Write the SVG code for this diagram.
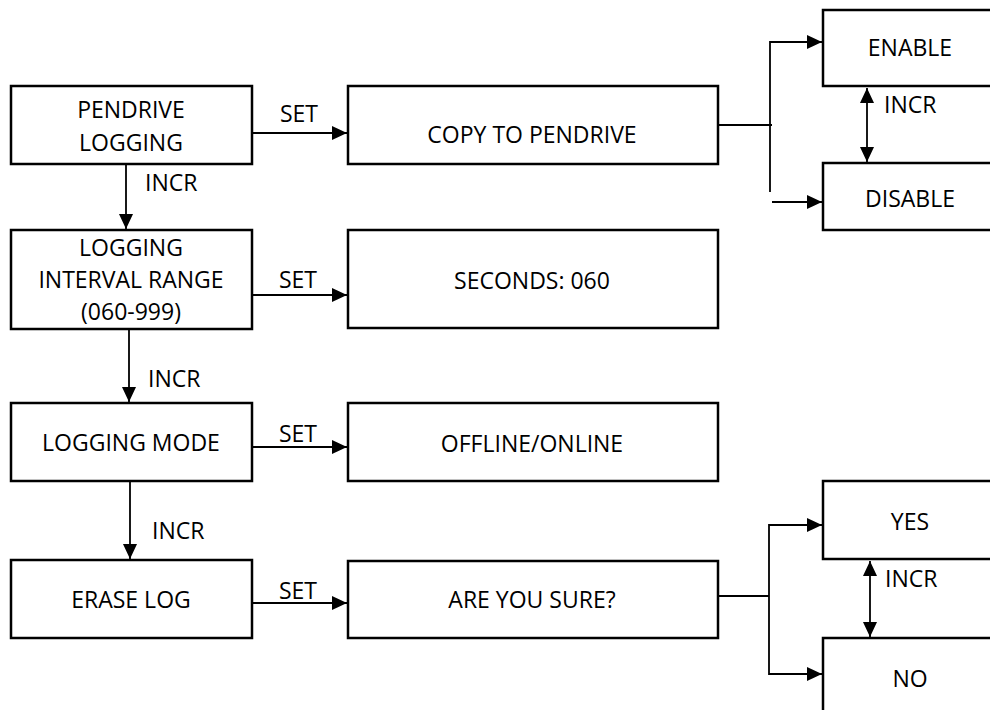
<svg xmlns="http://www.w3.org/2000/svg" width="990" height="710" viewBox="0 0 990 710">
  <style>
    .box { fill: #ffffff; stroke: #000000; stroke-width: 2.5; }
    .lbl { font-family: "Open Sans", "Liberation Sans", sans-serif; font-size: 23px; fill: #000000; }
    .mid { text-anchor: middle; }
    .wire { fill: none; stroke: #000000; stroke-width: 1.8; }
  </style>
  <defs>
    <marker id="head" markerUnits="userSpaceOnUse" markerWidth="16" markerHeight="16" refX="15" refY="7" orient="auto-start-reverse">
      <path d="M0,0 L15,7 L0,14 Z" fill="#000000"/>
    </marker>
  </defs>
  <rect width="990" height="710" fill="#ffffff"/>

  <!-- left column: menu items -->
  <g id="pendrive-logging">
    <rect class="box" x="11" y="86" width="241" height="78"/>
    <text class="lbl mid" x="131" y="118">PENDRIVE</text>
    <text class="lbl mid" x="131" y="151">LOGGING</text>
  </g>
  <g id="logging-interval">
    <rect class="box" x="11" y="230" width="241" height="99"/>
    <text class="lbl mid" x="131" y="256">LOGGING</text>
    <text class="lbl mid" x="131" y="288">INTERVAL RANGE</text>
    <text class="lbl mid" x="131" y="320">(060-999)</text>
  </g>
  <g id="logging-mode">
    <rect class="box" x="11" y="403" width="241" height="78"/>
    <text class="lbl mid" x="131" y="451">LOGGING MODE</text>
  </g>
  <g id="erase-log">
    <rect class="box" x="11" y="560" width="241" height="78"/>
    <text class="lbl mid" x="131" y="608">ERASE LOG</text>
  </g>

  <!-- middle column: settings -->
  <g id="copy-to-pendrive">
    <rect class="box" x="348" y="86" width="370" height="78"/>
    <text class="lbl mid" x="532" y="143">COPY TO PENDRIVE</text>
  </g>
  <g id="seconds">
    <rect class="box" x="348" y="230" width="370" height="98"/>
    <text class="lbl mid" x="532" y="289">SECONDS: 060</text>
  </g>
  <g id="offline-online">
    <rect class="box" x="348" y="403" width="370" height="78"/>
    <text class="lbl mid" x="532" y="452">OFFLINE/ONLINE</text>
  </g>
  <g id="are-you-sure">
    <rect class="box" x="348" y="561" width="370" height="77"/>
    <text class="lbl mid" x="532" y="608">ARE YOU SURE?</text>
  </g>

  <!-- right column: choices -->
  <g id="enable">
    <rect class="box" x="823" y="10" width="200" height="76"/>
    <text class="lbl mid" x="910" y="56">ENABLE</text>
  </g>
  <g id="disable">
    <rect class="box" x="823" y="163" width="200" height="67"/>
    <text class="lbl mid" x="910" y="207">DISABLE</text>
  </g>
  <g id="yes">
    <rect class="box" x="823" y="481" width="200" height="78"/>
    <text class="lbl mid" x="910" y="530">YES</text>
  </g>
  <g id="no">
    <rect class="box" x="823" y="638" width="200" height="90"/>
    <text class="lbl mid" x="910" y="687">NO</text>
  </g>

  <!-- connectors -->
  <g id="connectors">
    <!-- SET links -->
    <line class="wire" x1="252" y1="133" x2="347" y2="133" marker-end="url(#head)"/>
    <line class="wire" x1="252" y1="295" x2="347" y2="295" marker-end="url(#head)"/>
    <line class="wire" x1="252" y1="447" x2="347" y2="447" marker-end="url(#head)"/>
    <line class="wire" x1="252" y1="603" x2="347" y2="603" marker-end="url(#head)"/>
    <!-- INCR links -->
    <line class="wire" x1="126" y1="165" x2="126" y2="229" marker-end="url(#head)"/>
    <line class="wire" x1="129" y1="330" x2="129" y2="402" marker-end="url(#head)"/>
    <line class="wire" x1="130" y1="482" x2="130" y2="559" marker-end="url(#head)"/>
    <!-- enable / disable fork -->
    <polyline class="wire" points="718,125 772,125"/>
    <polyline class="wire" points="770,192 770,42 822,42" marker-end="url(#head)"/>
    <line class="wire" x1="772" y1="202" x2="822" y2="202" marker-end="url(#head)"/>
    <line class="wire" x1="867" y1="88" x2="867" y2="162" marker-start="url(#head)" marker-end="url(#head)"/>
    <!-- yes / no fork -->
    <polyline class="wire" points="718,596 769,596"/>
    <polyline class="wire" points="822,525 769,525 769,674 822,674" marker-start="url(#head)" marker-end="url(#head)"/>
    <line class="wire" x1="870" y1="561" x2="870" y2="637" marker-start="url(#head)" marker-end="url(#head)"/>
    <!-- labels -->
    <text class="lbl mid" x="299" y="122">SET</text>
    <text class="lbl mid" x="298" y="288">SET</text>
    <text class="lbl mid" x="298" y="442">SET</text>
    <text class="lbl mid" x="298" y="599">SET</text>
    <text class="lbl" x="145" y="191">INCR</text>
    <text class="lbl" x="148" y="387">INCR</text>
    <text class="lbl" x="152" y="539">INCR</text>
    <text class="lbl" x="884" y="113">INCR</text>
    <text class="lbl" x="885" y="587">INCR</text>
  </g>
</svg>
